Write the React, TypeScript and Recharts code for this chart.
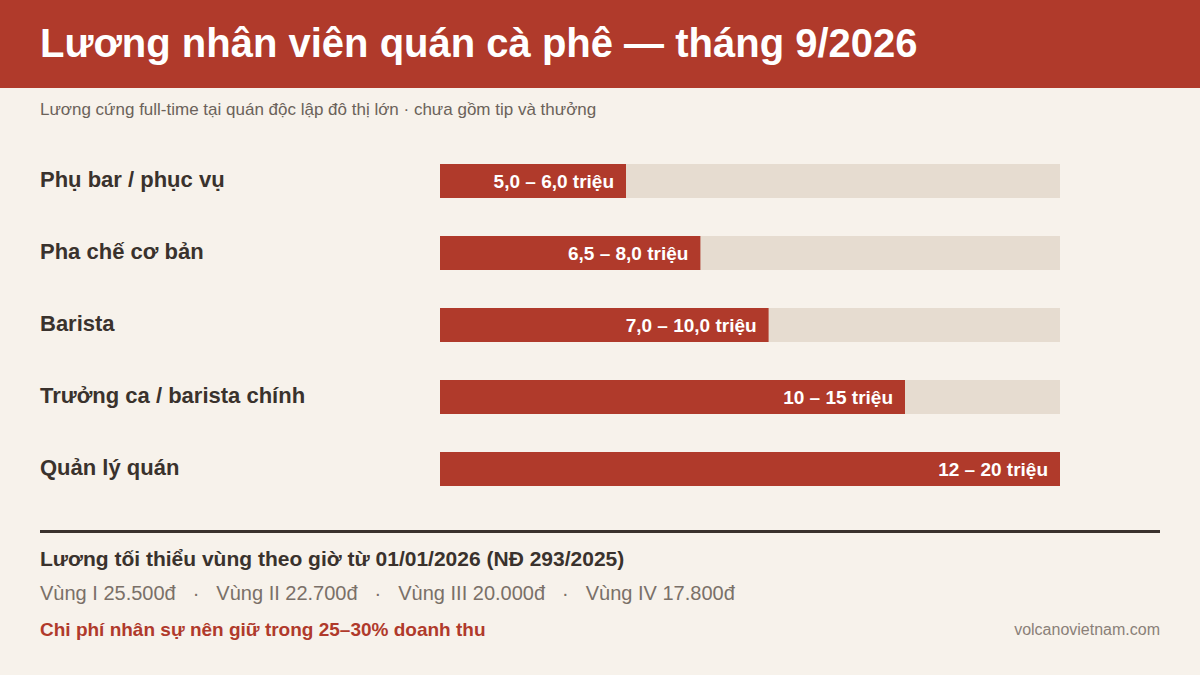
import React from 'react';
import { BarChart, Bar, XAxis, YAxis, LabelList } from 'recharts';

// vị trí / nhóm nghề
const roles = ['Phụ bar / phục vụ', 'Pha chế cơ bản', 'Barista', 'Trưởng ca / barista chính', 'Quản lý quán'];
// độ dài thanh (triệu đồng)
const barTop = [6.0, 8.4, 10.6, 15, 20];
const rangeLabels = ['5,0 – 6,0 triệu', '6,5 – 8,0 triệu', '7,0 – 10,0 triệu', '10 – 15 triệu', '12 – 20 triệu'];
const scaleMax = 20;

const regions = ['Vùng I 25.500đ', 'Vùng II 22.700đ', 'Vùng III 20.000đ', 'Vùng IV 17.800đ'];

const RED = '#b03a2b';
const TRACK = '#e6dcd0';
const BG = '#f7f2eb';
const DARK = '#3a322d';
const FONT = '"Liberation Sans", Arial, sans-serif';

const chartData = roles.map((r, i) => ({ role: r, top: barTop[i], label: rangeLabels[i] }));

function RoleTick(props: any) {
	const { y, payload } = props;
	return (
		<text x={40} y={y - 2} textAnchor="start" dominantBaseline="central"
			fill={DARK} fontSize={22} fontWeight="bold" fontFamily={FONT}>
			{payload.value}
		</text>
	);
}

function abs(top: number, extra: React.CSSProperties): React.CSSProperties {
	return { position: 'absolute', top: top, left: 40, margin: 0, whiteSpace: 'nowrap', ...extra };
}

export default function App() {
	return (
		<div style={{ position: 'absolute', left: 0, top: 0, width: 1200, height: 675, background: BG, fontFamily: FONT, overflow: 'hidden' }}>
			<div style={{ position: 'absolute', left: 0, top: 0, width: 1200, height: 88, background: RED }} />
			<div style={abs(19, { color: '#fff', fontSize: 40, fontWeight: 'bold', lineHeight: '48px' })}>
				Lương nhân viên quán cà phê — tháng 9/2026
			</div>
			<div style={abs(99, { color: '#6b625a', fontSize: 17, lineHeight: '22px' })}>
				Lương cứng full-time tại quán độc lập đô thị lớn · chưa gồm tip và thưởng
			</div>

			<div style={{ position: 'absolute', left: 0, top: 0 }}>
				<BarChart width={1200} height={675} data={chartData} layout="vertical"
					margin={{ top: 145, right: 140, bottom: 170, left: 0 }}>
					<XAxis type="number" domain={[0, scaleMax]} hide />
					<YAxis type="category" dataKey="role" width={440} axisLine={false} tickLine={false} tick={<RoleTick />} />
					<Bar dataKey="top" fill={RED} barSize={34} background={{ fill: TRACK }} isAnimationActive={false}>
						<LabelList dataKey="label" position="insideRight" offset={12} fill="#fff"
							fontSize={19} fontWeight="bold" fontFamily={FONT} />
					</Bar>
				</BarChart>
			</div>

			<div style={{ position: 'absolute', left: 40, top: 530, width: 1120, height: 3, background: DARK }} />
			<div style={abs(546, { color: DARK, fontSize: 21, fontWeight: 'bold', lineHeight: '26px' })}>
				Lương tối thiểu vùng theo giờ từ 01/01/2026 (NĐ 293/2025)
			</div>
			<div style={abs(580, { color: '#7a7068', fontSize: 20, lineHeight: '26px' })}>
				{regions.map((r, i) => (
					<span key={r}>
						{i > 0 && <span style={{ margin: '0 17px' }}>·</span>}
						{r}
					</span>
				))}
			</div>
			<div style={abs(618, { color: RED, fontSize: 19, fontWeight: 'bold', lineHeight: '24px' })}>
				Chi phí nhân sự nên giữ trong 25–30% doanh thu
			</div>
			<div style={{ position: 'absolute', right: 40, top: 620, color: '#8a8078', fontSize: 16, lineHeight: '20px' }}>
				volcanovietnam.com
			</div>
		</div>
	);
}
